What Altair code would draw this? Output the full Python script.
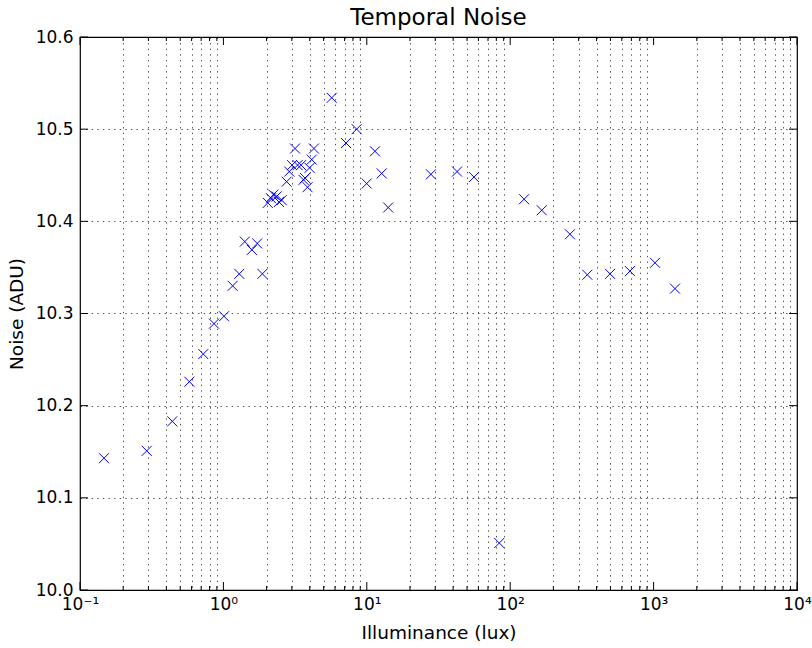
import altair as alt
import pandas as pd

# Measured temporal noise against scene illuminance
lux = [0.147, 0.292, 0.440, 0.579, 0.724, 0.860, 1.01, 1.16, 1.29, 1.41,
       1.58, 1.72, 1.87, 2.04, 2.15, 2.23, 2.35, 2.44, 2.55, 2.76,
       2.88, 3.01, 3.16, 3.29, 3.48, 3.62, 3.71, 3.86, 3.99, 4.13,
       4.28, 5.69, 7.16, 8.50, 9.98, 11.4, 12.7, 14.1, 28.0, 42.6,
       55.9, 83.9, 125, 166, 261, 345, 497, 684, 1023, 1410]
noise = [10.143, 10.151, 10.183, 10.226, 10.256, 10.289, 10.297, 10.330, 10.343, 10.378,
         10.369, 10.376, 10.343, 10.420, 10.425, 10.429, 10.427, 10.421, 10.423, 10.443,
         10.454, 10.461, 10.479, 10.461, 10.461, 10.445, 10.447, 10.437, 10.458, 10.467,
         10.479, 10.534, 10.485, 10.500, 10.441, 10.476, 10.452, 10.415, 10.451, 10.454,
         10.448, 10.051, 10.424, 10.412, 10.386, 10.342, 10.343, 10.346, 10.355, 10.327]

# Axis tick positions
x_major = [0.1, 1, 10, 100, 1000, 10000]
x_minor = [m * d for d in [0.1, 1, 10, 100, 1000] for m in range(2, 10)]
y_major = [10.0, 10.1, 10.2, 10.3, 10.4, 10.5, 10.6]

W, H = 717, 553
FONT = "DejaVu Sans"

df = pd.DataFrame({"lux": lux, "noise": noise})
xt = pd.DataFrame({"lux": x_major + x_minor,
                   "kind": ["major"] * len(x_major) + ["minor"] * len(x_minor)})
yt = pd.DataFrame({"noise": y_major})

xscale = alt.Scale(type="log", domain=[0.1, 10000], nice=False)
yscale = alt.Scale(domain=[10.0, 10.6], nice=False, zero=False)

is_major = "abs(log(datum.value)/LN10 - round(log(datum.value)/LN10)) < 0.001"
exp_ = "round(log(datum.value)/LN10)"
label_expr = (
    f"{is_major} ? ("
    f"{exp_} == -1 ? '10⁻¹' : {exp_} == 0 ? '10⁰' : {exp_} == 1 ? '10¹' : "
    f"{exp_} == 2 ? '10²' : {exp_} == 3 ? '10³' : '10⁴') : ''"
)

x_axis = alt.Axis(values=x_major + x_minor, labelExpr=label_expr,
                  ticks=False, domain=False, labelFontSize=17,
                  labelPadding=6, labelFont=FONT, labelColor="black",
                  labelFlush=False, labelOverlap=False,
                  titleFontSize=18.5, titleFont=FONT,
                  titleFontWeight="normal", titleColor="black",
                  titlePadding=11,
                  grid=True, gridColor="black", gridWidth=0.8,
                  gridDash=[1.4, 4.2],
                  gridOpacity=alt.condition(is_major, alt.value(0), alt.value(0.85)))
y_axis = alt.Axis(values=y_major, format=".1f", ticks=False,
                  domain=False, labelFontSize=17, labelPadding=7,
                  labelFont=FONT, labelColor="black",
                  labelFlush=False, labelOverlap=False,
                  titleFontSize=18.5, titleFont=FONT,
                  titleFontWeight="normal", titleColor="black",
                  titlePadding=9,
                  grid=True, gridColor="black", gridWidth=0.8,
                  gridDash=[1.4, 4.2], gridOpacity=0.85)

enc_x = alt.X("lux:Q", scale=xscale, title="Illuminance (lux)", axis=x_axis)
enc_y = alt.Y("noise:Q", scale=yscale, title="Noise (ADU)", axis=y_axis)

points = alt.Chart(df).mark_point(
    shape="M-1,-1L1,1M-1,1L1,-1", filled=False, color="#0000ff",
    strokeWidth=1, size=100, opacity=1
).encode(x=enc_x, y=enc_y)

tick_style = dict(color="black", strokeWidth=1)

def xticks(kind, length):
    base = alt.Chart(xt).transform_filter(f"datum.kind == '{kind}'").mark_rule(**tick_style)
    bottom = base.encode(x=enc_x, y=alt.value(H), y2=alt.value(H - length))
    top = base.encode(x=enc_x, y=alt.value(0), y2=alt.value(length))
    return [bottom, top]

ybase = alt.Chart(yt).mark_rule(**tick_style)
yleft = ybase.encode(y=enc_y, x=alt.value(0), x2=alt.value(8))
yright = ybase.encode(y=enc_y, x=alt.value(W), x2=alt.value(W - 8))

chart = alt.layer(
    points, *xticks("major", 8), *xticks("minor", 4), yleft, yright
).properties(
    width=W, height=H,
    background="white",
    title=alt.TitleParams("Temporal Noise", font=FONT, fontSize=23,
                          fontWeight="normal", color="black", offset=-2),
    autosize=alt.AutoSizeParams(type="none"),
    padding={"left": 80, "top": 37, "right": 15, "bottom": 58},
).configure_view(
    stroke="black", strokeWidth=1.2
)

chart.save("out.html", embed_options={"renderer": "svg", "actions": False})
